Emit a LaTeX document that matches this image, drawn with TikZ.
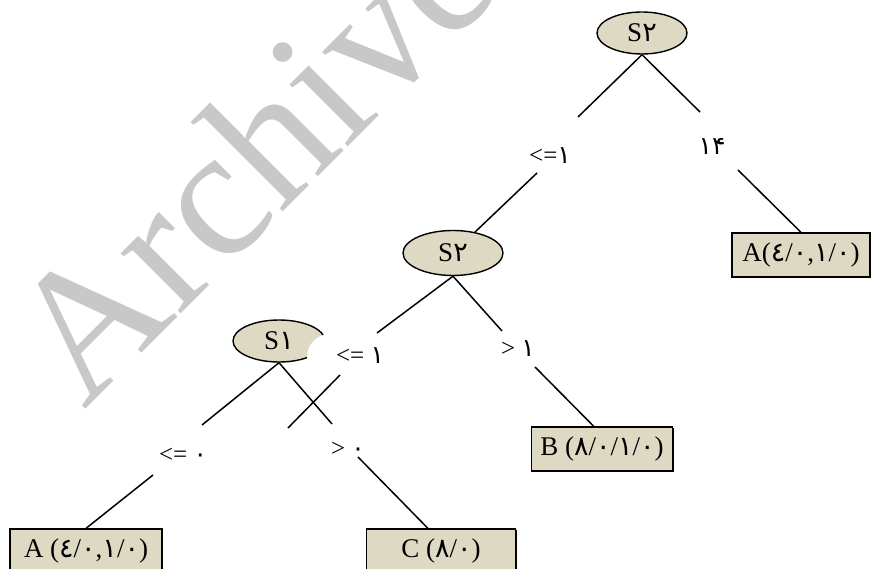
\documentclass[tikz,border=0pt]{standalone}
\usepackage{fontspec}
\setmainfont{Liberation Serif}
\newfontfamily\fadigits[Script=Arabic]{DejaVu Sans}
\newcommand{\fa}[1]{{\fadigits #1}}
\usetikzlibrary{shapes.geometric,shadows}
\definecolor{khaki}{RGB}{221,217,195}
\definecolor{wmgray}{RGB}{200,200,200}

\tikzset{
  attr/.style={ellipse,draw,line width=1.4pt,fill=khaki,inner sep=0pt,
    minimum width=90pt,minimum height=42pt,font=\fontsize{27}{30}\selectfont},
  leaf/.style={rectangle,draw,line width=1.3pt,fill=khaki,inner sep=4pt,
    minimum height=44pt,font=\fontsize{27}{30}\selectfont,
    drop shadow={shadow xshift=1.2pt,shadow yshift=-1.2pt,fill=black,opacity=1}},
  cond/.style={inner sep=0pt,font=\fontsize{25}{28}\selectfont},
  branch/.style={line width=1.5pt},
  wmark/.style={text=wmgray,inner sep=0pt,font=\fontsize{185}{185}\selectfont}
}

\begin{document}
\begin{tikzpicture}[x=1pt,y=-1pt]
\useasboundingbox (0,0) rectangle (873,569);

% background stamp
\node[wmark,rotate=45,anchor=base west] (wm) at (84,411) {Archive};

% decision nodes
\node[attr] (s2top) at (642,33) {S\fa{۲}};
\node[attr,minimum width=100pt,minimum height=45pt] (s2mid) at (453,253) {S\fa{۲}};
\node[attr,minimum width=92pt] (s1) at (279,341) {S\fa{۱}};
\fill[white] (330,357) circle (23pt);

% leaves
\node[leaf,minimum width=138pt] (a1) at (801,255) {A(\fa{٤}/\fa{٠},\fa{١}/\fa{٠})};
\node[leaf,minimum width=141pt] (b) at (602,449) {B (\fa{٨}/\fa{٠}/\fa{١}/\fa{٠})};
\node[leaf,minimum width=152pt] (a2) at (86,551) {A (\fa{٤}/\fa{٠},\fa{١}/\fa{٠})};
\node[leaf,minimum width=149pt] (c) at (441,551) {C (\fa{٨}/\fa{٠})};

% broken ends of the branches
\coordinate (l1a) at (578,117); \coordinate (l1b) at (537,173);
\coordinate (l2a) at (700,112); \coordinate (l2b) at (738,170);
\coordinate (l3a) at (377,333); \coordinate (l3b) at (340,375);
\coordinate (l3c) at (288,428);
\coordinate (l4a) at (502,331); \coordinate (l4b) at (535,367);
\coordinate (l5a) at (202,425); \coordinate (l5b) at (153,475);
\coordinate (l6a) at (332,424); \coordinate (l6b) at (358,457);

\draw[branch] (s2top.south) -- (l1a);
\draw[branch] (l1b) -- (s2mid);
\draw[branch] (s2top.south) -- (l2a);
\draw[branch] (l2b) -- (a1.north);
\draw[branch] (s2mid.south) -- (l3a);
\draw[branch] (l3b) -- (l3c);
\draw[branch] (s2mid.south) -- (l4a);
\draw[branch] (l4b) -- (b.110);
\draw[branch] (s1.south) -- (l5a);
\draw[branch] (l5b) -- (a2.north);
\draw[branch] (s1.south) -- (l6a);
\draw[branch] (l6b) -- (c.120);

% split conditions
\node[cond] (c1) at (550,156) {<=\fa{۱}};
\node[cond] (c2) at (712,146) {\fa{۱۴}};
\node[cond] (c3) at (360,356) {<= \fa{۱}};
\node[cond] (c4) at (518,349) {> \fa{۱}};
\node[cond] (c5) at (183,455) {<= \fa{۰}};
\node[cond] (c6) at (348,449) {> \fa{۰}};
\end{tikzpicture}
\end{document}
